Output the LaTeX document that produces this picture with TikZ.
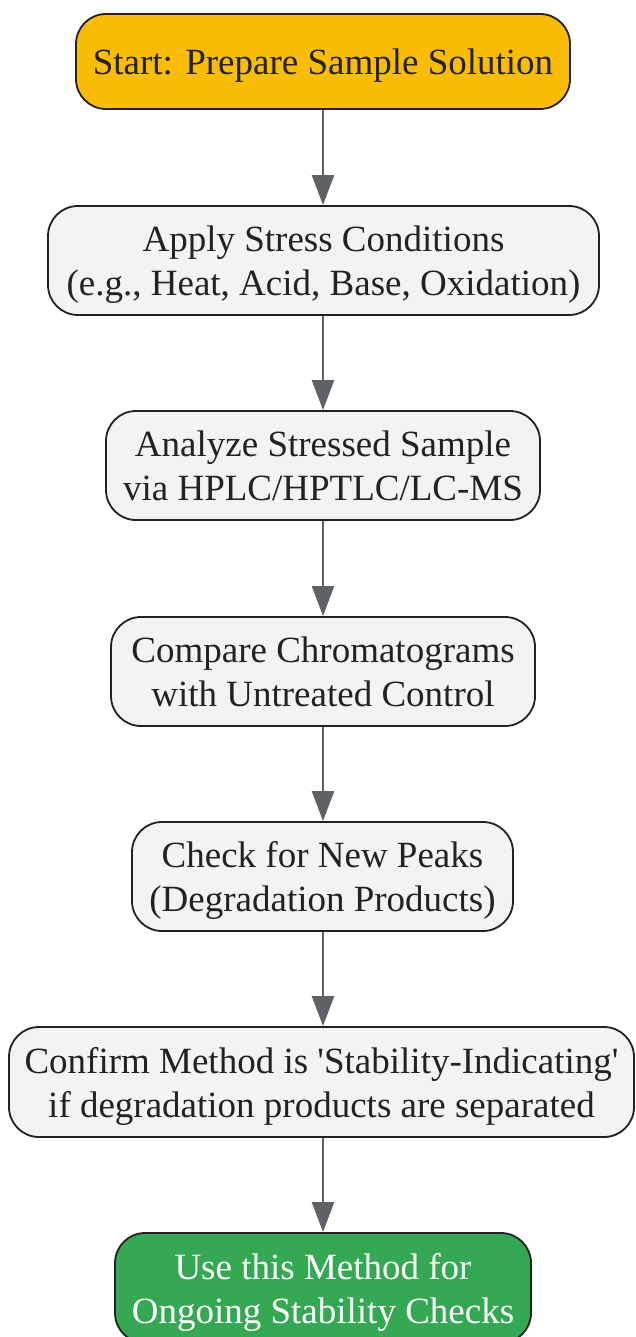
\documentclass[tikz,border=0pt]{standalone}
\usepackage{fontspec}
\setmainfont{Liberation Serif}
\usetikzlibrary{arrows.meta}
\definecolor{startc}{HTML}{FBBC05}
\definecolor{procc}{HTML}{F1F3F4}
\definecolor{endc}{HTML}{34A853}
\definecolor{edgec}{HTML}{5F6368}
\definecolor{borderc}{HTML}{222222}
\newcommand{\boxtext}[1]{\raisebox{-4.5pt}[\height][\depth]{\begin{tabular}{@{}c@{}}#1\end{tabular}}}
\begin{document}
\begin{tikzpicture}[x=1pt,y=-1pt,
  box/.style={draw=borderc, line width=1.8pt, rounded corners=30pt,
    inner sep=0pt, font=\fontsize{37}{44}\selectfont, text=borderc},
  procbox/.style={box, fill=procc, minimum height=109pt},
  flow/.style={draw=edgec, line width=2.5pt, -{Triangle[length=30pt,width=22pt]}}]
\useasboundingbox (0,0) rectangle (635,1337);
\node[box, fill=startc, minimum width=494pt, minimum height=95pt] (n1) at (323,61.5) {\boxtext{Start: Prepare Sample Solution}};
\node[procbox, minimum width=551pt] (n2) at (323.5,260.5) {\boxtext{Apply Stress Conditions\\(e.g., Heat, Acid, Base, Oxidation)}};
\node[procbox, minimum width=434pt] (n3) at (323,465.5) {\boxtext{Analyze Stressed Sample\\via HPLC/HPTLC/LC-MS}};
\node[procbox, minimum width=424pt] (n4) at (323,671.5) {\boxtext{Compare Chromatograms\\with Untreated Control}};
\node[procbox, minimum width=381pt] (n5) at (322.5,876.5) {\boxtext{Check for New Peaks\\(Degradation Products)}};
\node[procbox, minimum width=625pt, minimum height=110pt] (n6) at (321.5,1082) {\boxtext{Confirm Method is \textquotesingle Stability-Indicating\textquotesingle\\if degradation products are separated}};
\node[box, fill=endc, text=white, minimum width=416pt, minimum height=110pt] (n7) at (323,1288) {\boxtext{Use this Method for\\Ongoing Stability Checks}};
\draw[flow] (n1.south) -- (n1.south |- n2.north);
\draw[flow] (n1.south |- n2.south) -- (n1.south |- n3.north);
\draw[flow] (n1.south |- n3.south) -- (n1.south |- n4.north);
\draw[flow] (n1.south |- n4.south) -- (n1.south |- n5.north);
\draw[flow] (n1.south |- n5.south) -- (n1.south |- n6.north);
\draw[flow] (n1.south |- n6.south) -- (n1.south |- n7.north);
\end{tikzpicture}
\end{document}
